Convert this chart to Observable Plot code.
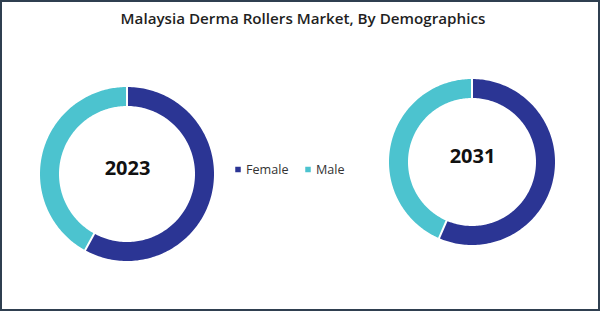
<!DOCTYPE html>
<html>
<head>
<meta charset="utf-8">
<script src="https://cdn.jsdelivr.net/npm/d3@7"></script>
<script src="https://cdn.jsdelivr.net/npm/@observablehq/plot@0.6"></script>
<style>
  html, body { margin: 0; padding: 0; background: #fff; }
  #frame {
    width: 600px; height: 311px; box-sizing: border-box;
    border: 2px solid #2f3f50; background: #fff; overflow: hidden;
    font-family: "Open Sans", sans-serif;
  }
  #title {
    height: 34px; line-height: 32px; text-align: center;
    font-size: 15.2px; font-weight: 600; color: #1f1f1f;
    padding-left: 6px;
  }
  #chart svg { display: block; }
</style>
</head>
<body>
<div id="frame">
  <div id="title">Malaysia Derma Rollers Market, By Demographics</div>
  <div id="chart"></div>
</div>
<script>
// Share of the market by demographic, per year (%)
const years = ["2023", "2031"];
const segments = ["Female", "Male"];
const female = [58, 56.5];
const male = [42, 43.5];

// Ring placement and size for each year (SVG pixel units)
const rings = [
  {cx: 125, cy: 138, outer: 87, inner: 68},
  {cx: 470, cy: 126, outer: 83, inner: 64}
];
const W = 596, H = 273;
const gap = 2; // white separation between slices, px

// Sample each slice as a band between outer and inner arcs, clockwise from 12 o'clock
const rows = [];
years.forEach((year, i) => {
  const {cx, cy, outer, inner} = rings[i];
  const values = [female[i], male[i]];
  const total = d3.sum(values);
  let start = 0;
  values.forEach((v, j) => {
    const end = start + (v / total) * 2 * Math.PI;
    const n = 160;
    const oa0 = start + gap / (2 * outer), oa1 = end - gap / (2 * outer);
    const ia0 = start + gap / (2 * inner), ia1 = end - gap / (2 * inner);
    for (let k = 0; k <= n; k++) {
      const t = k / n;
      const ao = oa0 + t * (oa1 - oa0);
      const ai = ia0 + t * (ia1 - ia0);
      rows.push({
        key: year + "-" + segments[j],
        segment: segments[j],
        x1: cx + outer * Math.sin(ao), y1: cy - outer * Math.cos(ao),
        x2: cx + inner * Math.sin(ai), y2: cy - inner * Math.cos(ai)
      });
    }
    start = end;
  });
});

const centers = years.map((year, i) => ({year, x: rings[i].cx, y: rings[i].cy}));

// Legend between the two rings
const legend = segments.map((s, i) => ({segment: s, x: 235.5 + i * 70, y: 133}));

const plot = Plot.plot({
  width: W, height: H,
  margin: 0,
  x: {domain: [0, W], range: [0, W], axis: null},
  y: {domain: [0, H], range: [0, H], axis: null},
  color: {domain: segments, range: ["#2b3594", "#4cc3cf"]},
  style: {fontFamily: "'Open Sans', sans-serif", background: "white"},
  marks: [
    Plot.area(rows, {x1: "x1", y1: "y1", x2: "x2", y2: "y2", z: "key", fill: "segment", curve: "linear"}),
    Plot.text(centers, {x: "x", y: "y", text: "year", dy: -6, fontSize: 20, fontWeight: 700, fill: "#111"}),
    Plot.dot(legend, {x: "x", y: "y", symbol: "square", r: 3.1, fill: "segment", stroke: null}),
    Plot.text(legend, {x: "x", y: "y", text: "segment", dx: 8, textAnchor: "start", fontSize: 12.6, fill: "#333"})
  ]
});
document.getElementById("chart").appendChild(plot);
</script>
</body>
</html>
